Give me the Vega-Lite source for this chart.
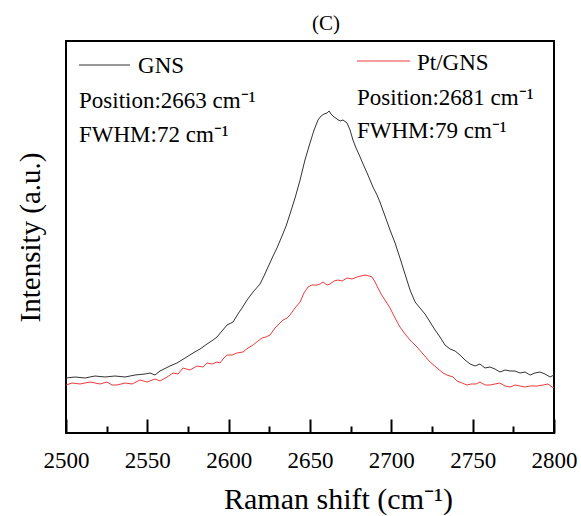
{
  "$schema": "https://vega.github.io/schema/vega-lite/v6.json",
  "width": 488,
  "height": 392,
  "autosize": "none",
  "padding": {"left": 66, "top": 41, "right": 27, "bottom": 83},
  "background": "white",
  "title": {"text": "(C)", "font": "Liberation Serif", "fontSize": 21, "fontWeight": "normal", "color": "black", "anchor": "middle", "dx": 16, "offset": 7},
  "datasets": {
    "spectra": [
      {"sample": "GNS", "wn": 2500.0, "v": 55}, {"sample": "GNS", "wn": 2505.5, "v": 56}, {"sample": "GNS", "wn": 2511.7, "v": 55}, {"sample": "GNS", "wn": 2517.8, "v": 57}, {"sample": "GNS", "wn": 2524.0, "v": 56}, {"sample": "GNS", "wn": 2530.1, "v": 57}, {"sample": "GNS", "wn": 2536.3, "v": 56}, {"sample": "GNS", "wn": 2542.4, "v": 58}, {"sample": "GNS", "wn": 2548.6, "v": 59}, {"sample": "GNS", "wn": 2551.6, "v": 60}, {"sample": "GNS", "wn": 2554.7, "v": 58}, {"sample": "GNS", "wn": 2557.8, "v": 62}, {"sample": "GNS", "wn": 2563.9, "v": 67}, {"sample": "GNS", "wn": 2568.2, "v": 70}, {"sample": "GNS", "wn": 2573.2, "v": 75}, {"sample": "GNS", "wn": 2578.1, "v": 80}, {"sample": "GNS", "wn": 2582.4, "v": 84}, {"sample": "GNS", "wn": 2586.7, "v": 89}, {"sample": "GNS", "wn": 2590.4, "v": 93}, {"sample": "GNS", "wn": 2592.8, "v": 96}, {"sample": "GNS", "wn": 2595.9, "v": 102}, {"sample": "GNS", "wn": 2599.0, "v": 108}, {"sample": "GNS", "wn": 2602.7, "v": 111}, {"sample": "GNS", "wn": 2605.7, "v": 119}, {"sample": "GNS", "wn": 2608.2, "v": 125}, {"sample": "GNS", "wn": 2611.3, "v": 133}, {"sample": "GNS", "wn": 2615.0, "v": 141}, {"sample": "GNS", "wn": 2619.3, "v": 149}, {"sample": "GNS", "wn": 2621.7, "v": 157}, {"sample": "GNS", "wn": 2624.2, "v": 166}, {"sample": "GNS", "wn": 2627.3, "v": 177}, {"sample": "GNS", "wn": 2629.7, "v": 185}, {"sample": "GNS", "wn": 2632.8, "v": 197}, {"sample": "GNS", "wn": 2635.3, "v": 207}, {"sample": "GNS", "wn": 2637.7, "v": 219}, {"sample": "GNS", "wn": 2640.8, "v": 235}, {"sample": "GNS", "wn": 2643.9, "v": 253}, {"sample": "GNS", "wn": 2646.9, "v": 273}, {"sample": "GNS", "wn": 2650.0, "v": 290}, {"sample": "GNS", "wn": 2652.5, "v": 303}, {"sample": "GNS", "wn": 2654.9, "v": 313}, {"sample": "GNS", "wn": 2656.8, "v": 317}, {"sample": "GNS", "wn": 2658.6, "v": 319}, {"sample": "GNS", "wn": 2660.5, "v": 320}, {"sample": "GNS", "wn": 2661.7, "v": 322}, {"sample": "GNS", "wn": 2662.9, "v": 319}, {"sample": "GNS", "wn": 2664.8, "v": 316}, {"sample": "GNS", "wn": 2666.6, "v": 314}, {"sample": "GNS", "wn": 2668.5, "v": 312}, {"sample": "GNS", "wn": 2670.3, "v": 313}, {"sample": "GNS", "wn": 2672.8, "v": 310}, {"sample": "GNS", "wn": 2674.6, "v": 303}, {"sample": "GNS", "wn": 2676.4, "v": 293}, {"sample": "GNS", "wn": 2678.3, "v": 285}, {"sample": "GNS", "wn": 2680.8, "v": 276}, {"sample": "GNS", "wn": 2682.6, "v": 269}, {"sample": "GNS", "wn": 2685.1, "v": 260}, {"sample": "GNS", "wn": 2686.9, "v": 253}, {"sample": "GNS", "wn": 2688.7, "v": 246}, {"sample": "GNS", "wn": 2691.2, "v": 238}, {"sample": "GNS", "wn": 2693.0, "v": 231}, {"sample": "GNS", "wn": 2696.1, "v": 217}, {"sample": "GNS", "wn": 2699.2, "v": 203}, {"sample": "GNS", "wn": 2702.3, "v": 190}, {"sample": "GNS", "wn": 2705.3, "v": 175}, {"sample": "GNS", "wn": 2708.4, "v": 159}, {"sample": "GNS", "wn": 2711.5, "v": 143}, {"sample": "GNS", "wn": 2714.6, "v": 131}, {"sample": "GNS", "wn": 2717.6, "v": 125}, {"sample": "GNS", "wn": 2720.7, "v": 119}, {"sample": "GNS", "wn": 2723.8, "v": 111}, {"sample": "GNS", "wn": 2726.9, "v": 103}, {"sample": "GNS", "wn": 2729.9, "v": 96}, {"sample": "GNS", "wn": 2733.0, "v": 88}, {"sample": "GNS", "wn": 2736.1, "v": 84}, {"sample": "GNS", "wn": 2739.2, "v": 82}, {"sample": "GNS", "wn": 2742.2, "v": 78}, {"sample": "GNS", "wn": 2745.3, "v": 73}, {"sample": "GNS", "wn": 2748.4, "v": 69}, {"sample": "GNS", "wn": 2751.5, "v": 67}, {"sample": "GNS", "wn": 2754.5, "v": 69}, {"sample": "GNS", "wn": 2757.6, "v": 65}, {"sample": "GNS", "wn": 2760.7, "v": 66}, {"sample": "GNS", "wn": 2763.7, "v": 64}, {"sample": "GNS", "wn": 2766.8, "v": 61}, {"sample": "GNS", "wn": 2769.9, "v": 63}, {"sample": "GNS", "wn": 2773.0, "v": 62}, {"sample": "GNS", "wn": 2776.0, "v": 62}, {"sample": "GNS", "wn": 2779.1, "v": 60}, {"sample": "GNS", "wn": 2782.2, "v": 61}, {"sample": "GNS", "wn": 2785.3, "v": 58}, {"sample": "GNS", "wn": 2788.3, "v": 60}, {"sample": "GNS", "wn": 2791.4, "v": 61}, {"sample": "GNS", "wn": 2794.5, "v": 59}, {"sample": "GNS", "wn": 2797.6, "v": 56}, {"sample": "GNS", "wn": 2800.0, "v": 58},
      {"sample": "Pt/GNS", "wn": 2500.0, "v": 48}, {"sample": "Pt/GNS", "wn": 2503.7, "v": 50}, {"sample": "Pt/GNS", "wn": 2508.6, "v": 49}, {"sample": "Pt/GNS", "wn": 2514.8, "v": 51}, {"sample": "Pt/GNS", "wn": 2520.9, "v": 49}, {"sample": "Pt/GNS", "wn": 2525.2, "v": 51}, {"sample": "Pt/GNS", "wn": 2528.3, "v": 48}, {"sample": "Pt/GNS", "wn": 2531.4, "v": 48}, {"sample": "Pt/GNS", "wn": 2536.3, "v": 50}, {"sample": "Pt/GNS", "wn": 2540.6, "v": 49}, {"sample": "Pt/GNS", "wn": 2545.5, "v": 53}, {"sample": "Pt/GNS", "wn": 2549.8, "v": 51}, {"sample": "Pt/GNS", "wn": 2554.7, "v": 54}, {"sample": "Pt/GNS", "wn": 2557.8, "v": 52}, {"sample": "Pt/GNS", "wn": 2562.1, "v": 56}, {"sample": "Pt/GNS", "wn": 2565.8, "v": 60}, {"sample": "Pt/GNS", "wn": 2568.9, "v": 59}, {"sample": "Pt/GNS", "wn": 2571.9, "v": 65}, {"sample": "Pt/GNS", "wn": 2576.2, "v": 63}, {"sample": "Pt/GNS", "wn": 2580.5, "v": 67}, {"sample": "Pt/GNS", "wn": 2584.2, "v": 66}, {"sample": "Pt/GNS", "wn": 2586.7, "v": 70}, {"sample": "Pt/GNS", "wn": 2589.8, "v": 69}, {"sample": "Pt/GNS", "wn": 2592.8, "v": 71}, {"sample": "Pt/GNS", "wn": 2594.7, "v": 70}, {"sample": "Pt/GNS", "wn": 2597.1, "v": 75}, {"sample": "Pt/GNS", "wn": 2599.0, "v": 78}, {"sample": "Pt/GNS", "wn": 2602.1, "v": 78}, {"sample": "Pt/GNS", "wn": 2605.1, "v": 80}, {"sample": "Pt/GNS", "wn": 2608.8, "v": 81}, {"sample": "Pt/GNS", "wn": 2611.9, "v": 85}, {"sample": "Pt/GNS", "wn": 2615.0, "v": 88}, {"sample": "Pt/GNS", "wn": 2618.0, "v": 92}, {"sample": "Pt/GNS", "wn": 2620.5, "v": 95}, {"sample": "Pt/GNS", "wn": 2622.9, "v": 96}, {"sample": "Pt/GNS", "wn": 2625.4, "v": 98}, {"sample": "Pt/GNS", "wn": 2628.5, "v": 105}, {"sample": "Pt/GNS", "wn": 2630.9, "v": 109}, {"sample": "Pt/GNS", "wn": 2633.4, "v": 113}, {"sample": "Pt/GNS", "wn": 2635.9, "v": 115}, {"sample": "Pt/GNS", "wn": 2637.7, "v": 118}, {"sample": "Pt/GNS", "wn": 2640.8, "v": 125}, {"sample": "Pt/GNS", "wn": 2643.9, "v": 131}, {"sample": "Pt/GNS", "wn": 2646.3, "v": 140}, {"sample": "Pt/GNS", "wn": 2648.8, "v": 146}, {"sample": "Pt/GNS", "wn": 2651.2, "v": 148}, {"sample": "Pt/GNS", "wn": 2654.3, "v": 148}, {"sample": "Pt/GNS", "wn": 2656.2, "v": 149}, {"sample": "Pt/GNS", "wn": 2658.0, "v": 151}, {"sample": "Pt/GNS", "wn": 2660.5, "v": 148}, {"sample": "Pt/GNS", "wn": 2662.3, "v": 149}, {"sample": "Pt/GNS", "wn": 2664.8, "v": 152}, {"sample": "Pt/GNS", "wn": 2667.2, "v": 153}, {"sample": "Pt/GNS", "wn": 2669.7, "v": 152}, {"sample": "Pt/GNS", "wn": 2672.8, "v": 155}, {"sample": "Pt/GNS", "wn": 2675.8, "v": 154}, {"sample": "Pt/GNS", "wn": 2678.9, "v": 156}, {"sample": "Pt/GNS", "wn": 2681.4, "v": 157}, {"sample": "Pt/GNS", "wn": 2683.8, "v": 158}, {"sample": "Pt/GNS", "wn": 2686.3, "v": 157}, {"sample": "Pt/GNS", "wn": 2688.1, "v": 156}, {"sample": "Pt/GNS", "wn": 2690.0, "v": 151}, {"sample": "Pt/GNS", "wn": 2691.8, "v": 145}, {"sample": "Pt/GNS", "wn": 2693.7, "v": 139}, {"sample": "Pt/GNS", "wn": 2696.1, "v": 133}, {"sample": "Pt/GNS", "wn": 2699.2, "v": 125}, {"sample": "Pt/GNS", "wn": 2702.3, "v": 115}, {"sample": "Pt/GNS", "wn": 2705.3, "v": 106}, {"sample": "Pt/GNS", "wn": 2708.4, "v": 99}, {"sample": "Pt/GNS", "wn": 2711.5, "v": 93}, {"sample": "Pt/GNS", "wn": 2715.8, "v": 86}, {"sample": "Pt/GNS", "wn": 2719.5, "v": 79}, {"sample": "Pt/GNS", "wn": 2723.8, "v": 71}, {"sample": "Pt/GNS", "wn": 2728.1, "v": 65}, {"sample": "Pt/GNS", "wn": 2731.8, "v": 60}, {"sample": "Pt/GNS", "wn": 2734.2, "v": 58}, {"sample": "Pt/GNS", "wn": 2737.9, "v": 56}, {"sample": "Pt/GNS", "wn": 2740.4, "v": 52}, {"sample": "Pt/GNS", "wn": 2743.5, "v": 50}, {"sample": "Pt/GNS", "wn": 2746.5, "v": 48}, {"sample": "Pt/GNS", "wn": 2749.0, "v": 49}, {"sample": "Pt/GNS", "wn": 2752.1, "v": 49}, {"sample": "Pt/GNS", "wn": 2754.5, "v": 51}, {"sample": "Pt/GNS", "wn": 2757.6, "v": 48}, {"sample": "Pt/GNS", "wn": 2760.7, "v": 48}, {"sample": "Pt/GNS", "wn": 2763.7, "v": 49}, {"sample": "Pt/GNS", "wn": 2766.8, "v": 50}, {"sample": "Pt/GNS", "wn": 2769.9, "v": 47}, {"sample": "Pt/GNS", "wn": 2773.0, "v": 46}, {"sample": "Pt/GNS", "wn": 2776.0, "v": 48}, {"sample": "Pt/GNS", "wn": 2779.1, "v": 47}, {"sample": "Pt/GNS", "wn": 2782.2, "v": 46}, {"sample": "Pt/GNS", "wn": 2785.3, "v": 47}, {"sample": "Pt/GNS", "wn": 2789.6, "v": 47}, {"sample": "Pt/GNS", "wn": 2793.3, "v": 48}, {"sample": "Pt/GNS", "wn": 2796.3, "v": 49}, {"sample": "Pt/GNS", "wn": 2798.8, "v": 46}, {"sample": "Pt/GNS", "wn": 2800.0, "v": 45}
    ],
    "keys": [
      {"sample": "GNS", "wn": 2508.0, "wn2": 2539.3, "v": 368},
      {"sample": "Pt/GNS", "wn": 2678.9, "wn2": 2711.5, "v": 372}
    ],
    "labels": [
      {"wn": 2544.3, "v": 360, "text": "GNS"},
      {"wn": 2508.0, "v": 325, "text": "Position:2663 cm⁻¹"},
      {"wn": 2508.0, "v": 291, "text": "FWHM:72 cm⁻¹"},
      {"wn": 2715.8, "v": 363, "text": "Pt/GNS"},
      {"wn": 2678.9, "v": 328, "text": "Position:2681 cm⁻¹"},
      {"wn": 2678.9, "v": 295, "text": "FWHM:79 cm⁻¹"}
    ]
  },
  "encoding": {
    "x": {
      "field": "wn", "type": "quantitative",
      "scale": {"domain": [2500, 2800], "nice": false, "zero": false},
      "title": "Raman shift (cm⁻¹)",
      "axis": {
        "values": [2500, 2525, 2550, 2575, 2600, 2625, 2650, 2675, 2700, 2725, 2750, 2775, 2800],
        "labelExpr": "datum.value % 50 === 0 ? datum.label : ''",
        "format": "d",
        "domain": false, "grid": false,
        "tickColor": "black", "tickWidth": 2,
        "tickSize": {"condition": {"test": "datum.value % 50 === 0", "value": -14}, "value": -7},
        "labelFont": "Liberation Serif", "labelFontSize": 23, "labelColor": "black", "labelPadding": 30,
        "labelFlush": false, "labelOverlap": false,
        "titleFont": "Liberation Serif", "titleFontSize": 30, "titleFontWeight": "normal", "titleColor": "black", "titlePadding": 5, "titleX": 272
      }
    },
    "y": {
      "field": "v", "type": "quantitative",
      "scale": {"domain": [0, 392], "nice": false},
      "title": "Intensity (a.u.)",
      "axis": {
        "labels": false, "ticks": false, "domain": false, "grid": false,
        "titleFont": "Liberation Serif", "titleFontSize": 29, "titleFontWeight": "normal", "titleColor": "black", "titlePadding": 21
      }
    }
  },
  "layer": [
    {
      "data": {"name": "spectra"},
      "mark": {"type": "line", "strokeWidth": 1, "interpolate": "linear"},
      "encoding": {
        "color": {"field": "sample", "type": "nominal", "scale": {"domain": ["GNS", "Pt/GNS"], "range": ["#333333", "#ee3b3b"]}, "legend": null}
      }
    },
    {
      "data": {"name": "keys"},
      "mark": {"type": "rule", "strokeWidth": 1},
      "encoding": {
        "x2": {"field": "wn2"},
        "color": {"field": "sample", "type": "nominal", "legend": null}
      }
    },
    {
      "data": {"name": "labels"},
      "mark": {"type": "text", "align": "left", "baseline": "alphabetic", "font": "Liberation Serif", "fontSize": 23, "color": "black"},
      "encoding": {
        "text": {"field": "text", "type": "nominal"}
      }
    }
  ],
  "config": {
    "view": {"stroke": "black", "strokeWidth": 2}
  }
}
